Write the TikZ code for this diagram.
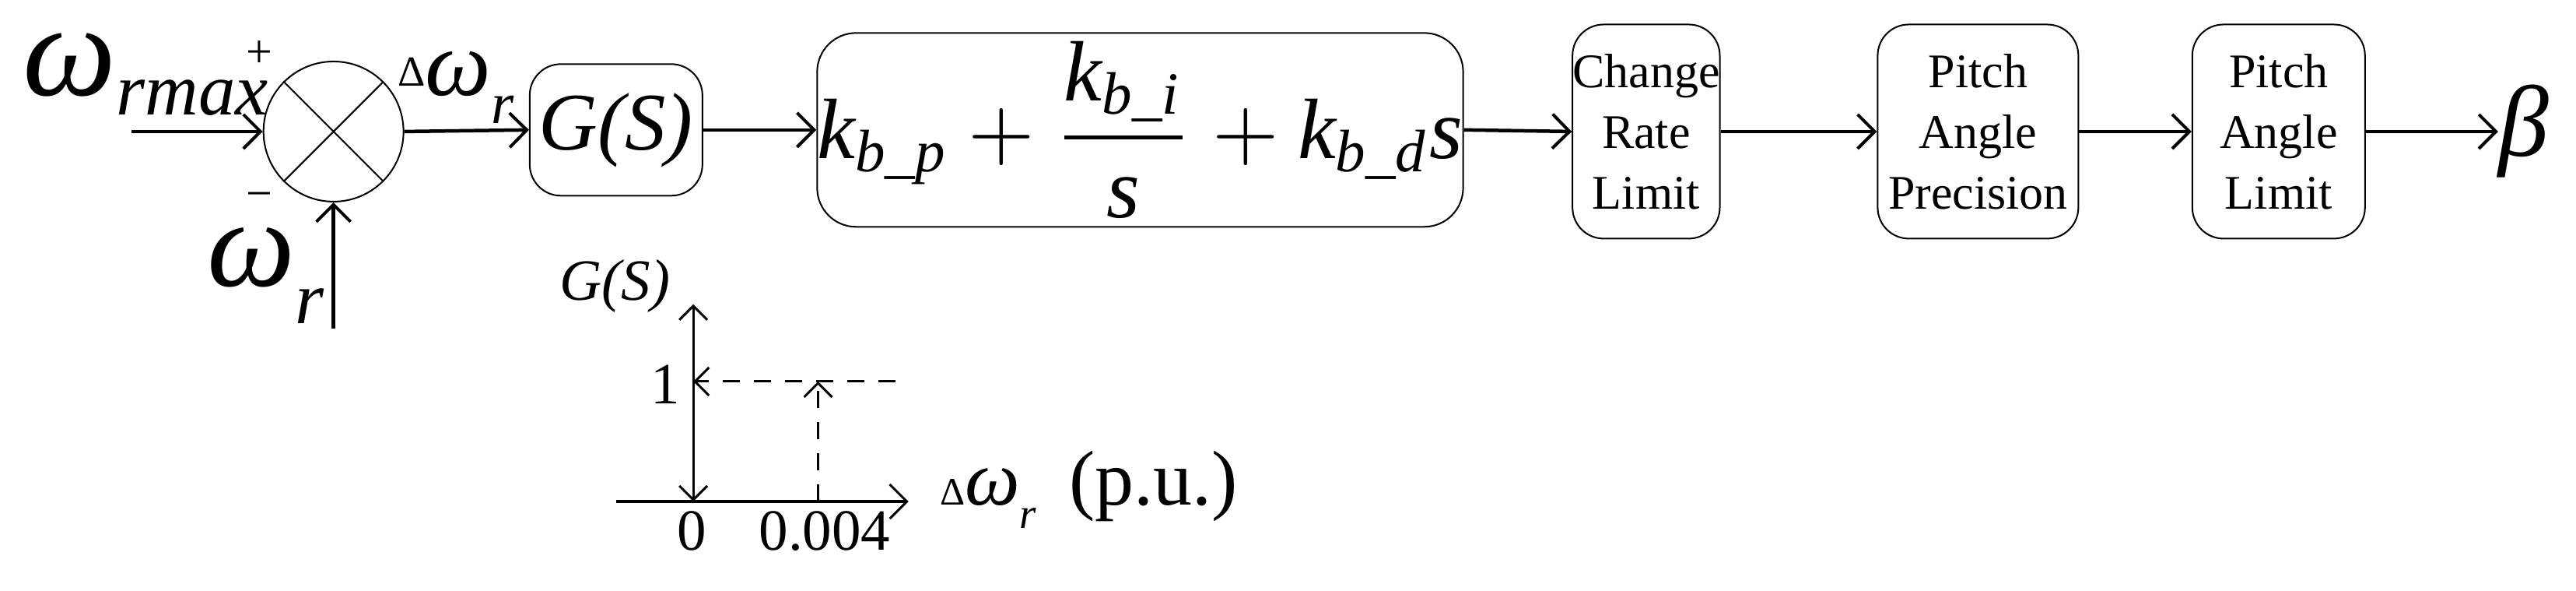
\documentclass[tikz,border=0pt]{standalone}
\usepackage{amsmath}
\usepackage{graphicx}
\usepackage{fontspec}
\setmainfont{Liberation Serif}
\usetikzlibrary{arrows.meta}
\begin{document}
\begin{tikzpicture}[x=2.112pt,y=-2.112pt,
  tip/.style={-{Straight Barb[length=22pt,width=44pt,line width=4pt]}},
  con/.style={line width=4.5pt,tip},
  blk/.style={draw,line width=2pt,rounded corners=40pt,align=center,inner sep=0pt,
    font=\fontsize{62}{78}\selectfont},
  thin/.style={line width=3pt,-{Straight Barb[length=18pt,width=36pt,line width=3pt]}},
  lbl/.style={inner sep=0pt}]
\useasboundingbox (0,0) rectangle (1568,359);
\node[draw,circle,line width=2pt,minimum size=180pt,inner sep=0pt] (sum) at (203,80) {};
\draw[line width=2pt] (sum.45)--(sum.225) (sum.135)--(sum.315);
\node[blk,minimum width=222pt,minimum height=169pt,font=\fontsize{105}{105}\selectfont\itshape] (gs) at (375,79) {G(S)};
\node[blk,minimum width=777pt,minimum height=249pt,rounded corners=50pt,font=\fontsize{10}{12}\selectfont] (pid) at (694,79)
 {\scalebox{11}{$\textit{k}_{\textit{b\_p}}+\dfrac{\textit{k}_{\textit{b\_i}}}{\textit{s}}+\textit{k}_{\textit{b\_d}}\textit{s}$}};
\node[blk,minimum width=180pt,minimum height=275pt] (crl) at (1002,80) {Change\\Rate\\Limit};
\node[blk,minimum width=258pt,minimum height=275pt] (pap) at (1204,80) {Pitch\\Angle\\Precision};
\node[blk,minimum width=222pt,minimum height=275pt] (pal) at (1387,80) {Pitch\\Angle\\Limit};
\node[lbl,font=\fontsize{130}{130}\selectfont\itshape] (beta) at (1536,80) {β};
\coordinate (in) at (80,80);
\coordinate (wr) at (203,200);
\draw[con] (in) -- (sum.west);
\draw[con] (wr) -- (sum.south);
\draw[con] (sum.east) -- (gs.west);
\draw[con] (gs.east) -- (pid.west);
\draw[con] (pid.east) -- (crl.west);
\draw[con] (crl.east) -- (pap.west);
\draw[con] (pap.east) -- (pal.west);
\draw[con] (pal.east) -- (beta.west);
\node[lbl,anchor=base west,font=\fontsize{170}{170}\selectfont\itshape] (wmax) at (14,58) {ω\raisebox{-0.15em}{\fontsize{95}{95}\selectfont rmax}};
\node[lbl,font=\fontsize{60}{60}\selectfont] (plus) at (158,33) {+};
\node[lbl,font=\fontsize{60}{60}\selectfont] (minus) at (158,122) {−};
\node[lbl,anchor=base west,font=\fontsize{160}{160}\selectfont\itshape] (wrl) at (126,174) {ω\raisebox{-0.3em}{\fontsize{95}{95}\selectfont r}};
\node[lbl,anchor=base west,font=\fontsize{120}{120}\selectfont\itshape] (dw) at (242,58) {\raisebox{0.1em}{\upshape\fontsize{55}{55}\selectfont Δ}ω\raisebox{-0.3em}{\fontsize{75}{75}\selectfont r}};
% graph
\coordinate (o) at (422,305);
\coordinate (yt) at (422,185);
\coordinate (xl) at (375,305);
\coordinate (xr) at (553,305);
\coordinate (one) at (422,232);
\coordinate (dr) at (545,232);
\coordinate (tk) at (498,305);
\coordinate (tt) at (498,232);
\draw[line width=4.5pt,-{Straight Barb[length=22pt,width=44pt,line width=3pt]}] (xl) -- (xr);
\draw[thin] (o) -- (yt);
\draw[thin] (one) -- (o);
\draw[thin,dash pattern=on 22pt off 18pt] (dr) -- (one);
\draw[thin,dash pattern=on 22pt off 18pt] (tk) -- (tt);
\node[lbl,anchor=south east,font=\fontsize{75}{75}\selectfont\itshape] (gl) at (408,190) {G(S)};
\node[lbl,anchor=east,font=\fontsize{75}{75}\selectfont] (l1) at (414,234) {1};
\node[lbl,anchor=north,font=\fontsize{75}{75}\selectfont] (l0) at (421,311) {0};
\node[lbl,anchor=north,font=\fontsize{75}{75}\selectfont] (l4) at (502,311) {0.004};
\node[lbl,anchor=west,font=\fontsize{100}{100}\selectfont] (xlab) at (572,298) {{\fontsize{50}{50}\selectfont Δ}\textit{ω}\raisebox{-0.3em}{\fontsize{55}{55}\selectfont\textit{r}}\, (p.u.)};
\end{tikzpicture}
\end{document}
